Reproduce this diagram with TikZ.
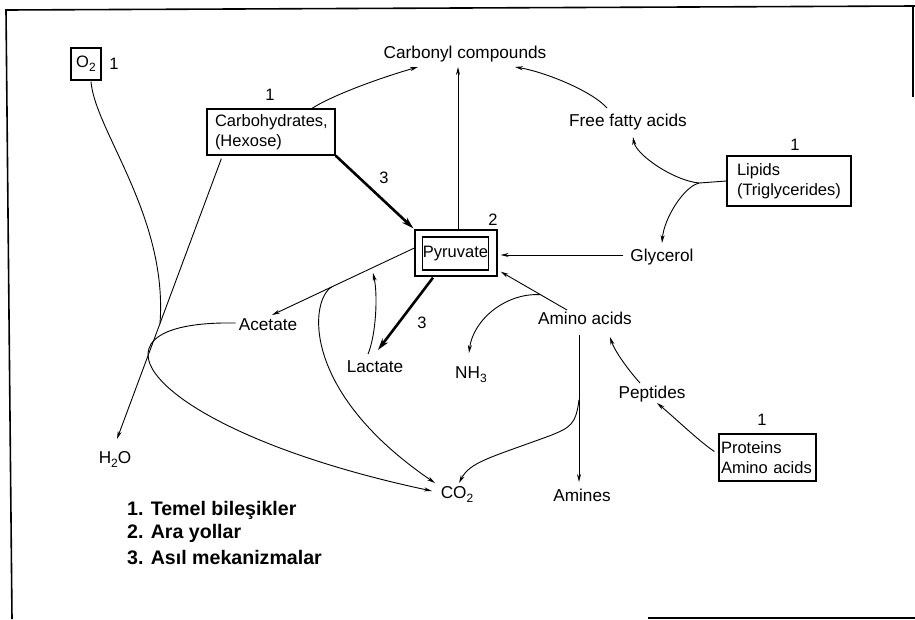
\documentclass[tikz,border=0pt]{standalone}
\usepackage{fontspec}
\setmainfont{Liberation Sans}
\usetikzlibrary{calc,arrows.meta}
\newcommand\sbs[1]{\raisebox{-4pt}{\fontsize{12}{12}\selectfont #1}}
\begin{document}
\begin{tikzpicture}[x=1pt,y=-1pt,
  lbl/.style={inner sep=0pt, font=\fontsize{17.2}{20}\selectfont},
  num/.style={inner sep=0pt, font=\fontsize{16.5}{20}\selectfont},
  box/.style={draw, line width=1.3pt, inner ysep=0pt, align=left, font=\fontsize{16.5}{20}\selectfont},
  conn/.style={line width=0.9pt, -{Stealth[length=8pt,width=4pt]}},
  plain/.style={line width=0.9pt},
  thickarrow/.style={line width=2.6pt, -{Stealth[length=12pt,width=7pt]}},
  legend/.style={anchor=west, inner sep=0pt, font=\bfseries\fontsize{19.6}{23}\selectfont},
  frame/.style={line width=1.6pt}]
\fill[white] (0,0) rectangle (915,619);
\useasboundingbox (0,0) rectangle (915,619);
% frame
\draw[frame] (915,6) -- (6,10) -- (12,619);
\draw[frame] (913,5) -- (913,97);
\draw[frame] (648,618) -- (915,618);
% boxes
\node[box, minimum width=30pt, minimum height=32pt, inner xsep=0pt, align=center] (o2) at (86,64) {O\sbs{2}};
\node[box, minimum height=46pt, inner xsep=8pt, text width=112pt] (carbs) at (271,132) {Carbohydrates,\\(Hexose)};
\node[box, minimum width=82pt, minimum height=46pt, inner sep=0pt] (pyr) at (456,253) {};
\node[draw, line width=1.1pt, minimum width=65pt, minimum height=33pt, inner sep=0pt, font=\fontsize{16.5}{20}\selectfont] (pyrin) at (455.5,253.5) {Pyruvate};
\node[box, minimum height=50pt, inner xsep=10pt, text width=104pt] (lipids) at (789,181) {Lipids\\(Triglycerides)};
\node[box, minimum height=47pt, inner xsep=2pt, text width=93pt] (proteins) at (767.5,457.5) {Proteins\\Amino acids};
% labels
\node[lbl] (carbonyl) at (465,54) {Carbonyl compounds};
\node[lbl] (ffa) at (628,122) {Free fatty acids};
\node[lbl] (glycerol) at (662,257) {Glycerol};
\node[lbl] (acetate) at (268,325) {Acetate};
\node[lbl] (lactate) at (375,367) {Lactate};
\node[lbl] (nh3) at (471,375) {NH\sbs{3}};
\node[lbl] (amino) at (585,318) {Amino acids};
\node[lbl] (h2o) at (115,459) {H\sbs{2}O};
\node[lbl] (co2) at (457,494) {CO\sbs{2}};
\node[lbl] (peptides) at (652,394) {Peptides};
\node[lbl] (amines) at (582,495) {Amines};
% numbers
\node[num] (n1o) at (114,64) {1};
\node[num] (n1c) at (270,95) {1};
\node[num] (n2p) at (493,220) {2};
\node[num] (n1l) at (795,145) {1};
\node[num] (n1p) at (762,420) {1};
\node[num] (n3a) at (384,178) {3};
\node[num] (n3b) at (422,323) {3};
% connectors
\coordinate (cbase) at ($(carbonyl.center)+(0,13)$);
\draw[conn] ([xshift=41pt]carbs.north) .. controls +(22,-14) and +(-35,10) .. ($(carbonyl.center)+(-47,13)$);
\draw[conn] ([xshift=2pt]pyr.north) -- ([xshift=2pt]pyr.north |- cbase);
\draw[conn] ($(ffa.center)+(-21,-14)$) .. controls +(-15,-17) and +(30,5) .. ($(carbonyl.center)+(50,13)$);
\draw[plain] (lipids.west) -- ++(-27,2) coordinate (lb);
\draw[conn] (lb) .. controls +(-25,-2) and +(3,18) .. ($(ffa.center)+(5,15)$);
\draw[conn] (lb) .. controls +(-15,3) and +(2,-25) .. ($(glycerol.center)+(0,-14)$);
\draw[conn] ($(glycerol.center)+(-39,-2)$) -- ($(pyr.east)+(3,2)$);
\draw[thickarrow] (carbs.south east) -- ($(pyr.north west)+(-1,-1)$);
\draw[thickarrow] ($(pyr.south)+(-23,1)$) -- ($(lactate.center)+(3,-17)$);
\draw[conn] ($(lactate.center)+(-7,-13)$) .. controls +(8,-19) and +(5,22) .. ($(pyr.center)+(-83,20)$);
\draw[conn] ($(pyr.west)+(0,-5)$) -- coordinate[pos=0.58] (pa) ($(acetate.center)+(4,-10)$);
\draw[conn] (pa) .. controls +(-22,13) and +(-135,-92) .. ($(co2.center)+(-22,-11)$);
\draw[conn] ($(acetate.west)+(-3,-2)$) .. controls +(-170,-3) and +(-282,-60) .. ($(co2.center)+(-25,-3)$);
\draw[conn] ($(amino.center)+(-18,-8)$) -- coordinate[pos=0.4] (pn) ($(pyr.south east)+(3,-5)$);
\draw[conn] (pn) .. controls +(-35,-2) and +(4,-33) .. ($(nh3.center)+(-2,-22)$);
\draw[conn] ($(amino.center)+(-6,17)$) -- coordinate[pos=0.44] (pm) ($(amines.center)+(-3,-13)$);
\draw[conn] (pm) .. controls +(-3,25) and +(20,-8) .. ($(pm)+(-29,36)$) .. controls +(-60,22) and +(11,-21) .. ($(co2.center)+(2,-11)$);
\draw[conn] ($(peptides.center)+(-12,-11)$) .. controls +(-10,-11) and +(5,15) .. ($(amino.center)+(25,19)$);
\draw[conn] ($(proteins.west)+(-4,-6)$) .. controls +(-15,-10) and +(18,15) .. ($(peptides.center)+(5,9)$);
\draw[conn] ($(carbs.south west)+(15,3)$) -- coordinate[pos=0.588] (pw) ($(h2o.center)+(2,-20)$);
\draw[plain] ($(o2.south)+(5,1)$) .. controls +(4,49) and +(8,-107) .. (pw);
% legend
\node[legend] (leg1) at (127,510) {1. Temel bileşikler};
\node[legend] (leg2) at (127,533) {2. Ara yollar};
\node[legend] (leg3) at (127,557) {3. Asıl mekanizmalar};
\end{tikzpicture}
\end{document}
